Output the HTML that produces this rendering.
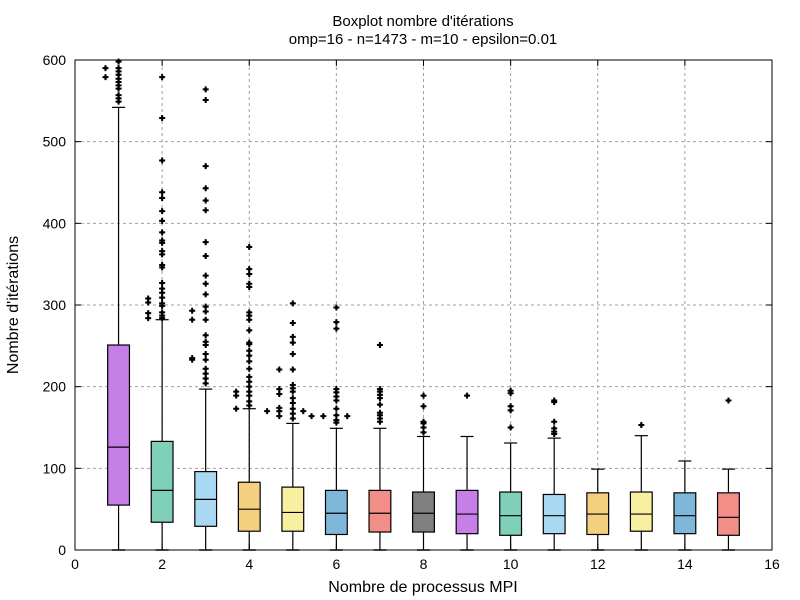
<!DOCTYPE html>
<html><head><meta charset="utf-8"><style>
body{margin:0;background:#fff}
svg{display:block;font-family:"Liberation Sans",sans-serif}
</style></head><body>
<svg id="chart" width="800" height="600">
<rect width="800" height="600" fill="#fff"/>
<text x="423" y="26" text-anchor="middle" font-size="15">Boxplot nombre d'itérations</text>
<text x="423" y="44" text-anchor="middle" font-size="15">omp=16 - n=1473 - m=10 - epsilon=0.01</text>
<text x="423" y="592" text-anchor="middle" font-size="16">Nombre de processus MPI</text>
<text transform="translate(18,305) rotate(-90)" text-anchor="middle" font-size="16">Nombre d'itérations</text>
<g id="grid"></g><g id="marks"></g><g id="axes"></g>
</svg>
<script>
const categories=[1,2,3,4,5,6,7,8,9,10,11,12,13,14,15];
const q1=[55,34,29,23,23,19,22,22,20,18,20,19,23,20,18];
const medians=[126,73,62,50,46,45,45,45,44,42,42,44,44,42,40];
const q3=[251,133,96,83,77,73,73,71,73,71,68,70,71,70,70];
const whiskerLow=[0,0,0,0,0,0,0,0,0,0,0,0,0,0,0];
const whiskerHigh=[542,282,197,173,155,149,149,139,139,131,137,99,140,109,99];
const colors=["#c77fe8","#7fcfb9","#a9d9f2","#f2d080","#f8f0a0","#7fb7d9","#f28e87","#808080","#c77fe8","#7fcfb9","#a9d9f2","#f2d080","#f8f0a0","#7fb7d9","#f28e87"];
// outliers: [x position, value]
const outliers=[
[1,598],[1,590],[1,586],[1,582],[1,577],[1,573],[1,569],[1,565],[1,557],[1,553],[1,549],[0.7,590],[0.7,579],
[2,579],[2,529],[2,477],[2,438],[2,431],[2,415],[2,403],[2,389],[2,379],[2,376],[2,366],[2,362],[2,349],[2,346],[2,327],[2,320],[2,315],[2,309],[2,302],[2,299],[2,291],[2,287],[2,284],[1.68,308],[1.68,303],[1.68,290],[1.68,284],
[3,564],[3,551],[3,470],[3,443],[3,428],[3,416],[3,377],[3,360],[3,336],[3,326],[3,313],[3,298],[3,292],[3,282],[3,263],[3,255],[3,251],[3,240],[3,233],[3,222],[3,216],[3,210],[3,204],[2.69,293],[2.69,282],[2.69,235],[2.69,233],
[4,371],[4,344],[4,338],[4,326],[4,322],[4,291],[4,287],[4,282],[4,269],[4,254],[4,252],[4,244],[4,238],[4,231],[4,222],[4,212],[4,206],[4,200],[4,194],[4,189],[4,182],[4,177],[3.7,194],[3.7,189],[3.7,173],
[5,302],[5,278],[5,261],[5,254],[5,240],[5,221],[5,202],[5,198],[5,194],[5,186],[5,180],[5,173],[5,167],[5,161],[4.69,221],[4.69,197],[4.69,191],[4.69,174],[4.69,170],[4.69,164],[4.41,170],[5.24,170],[5.43,164],[5.7,164],
[6,297],[6,279],[6,271],[6,197],[6,193],[6,188],[6,183],[6,173],[6,165],[6,159],[6,156],[6.25,164],
[7,251],[7,197],[7,194],[7,190],[7,186],[7,178],[7,168],[7,165],[7,161],[7,157],
[8,189],[8,176],[8,157],[8,155],[8,150],[8,144],
[9,189],
[10,195],[10,192],[10,176],[10,171],[10,150],
[11,183],[11,181],[11,157],[11,149],[11,145],[11,142],
[13,153],[15,183]];
const xTicks=[0,2,4,6,8,10,12,14,16];
const yTicks=[0,100,200,300,400,500,600];
const X0=75,X1=772,Y0=550,Y1=60;
const xs=v=>X0+(v-0)/(16-0)*(X1-X0);
const ys=v=>Y0-(v-0)/(600-0)*(Y0-Y1);
const NS="http://www.w3.org/2000/svg";
function mk(tag,attrs,parent){const e=document.createElementNS(NS,tag);for(const k in attrs)e.setAttribute(k,attrs[k]);parent.appendChild(e);return e;}
const grid=document.getElementById('grid'),marks=document.getElementById('marks'),axes=document.getElementById('axes');
xTicks.forEach(t=>{if(t>0&&t<16){const l=mk('line',{x1:xs(t),x2:xs(t),y1:Y0,y2:Y1,stroke:'#a0a0a0','stroke-dasharray':'3,3','stroke-width':1},grid);

}});
yTicks.forEach(t=>{if(t>0&&t<600){const l=mk('line',{x1:X0,x2:X1,y1:ys(t),y2:ys(t),stroke:'#a0a0a0','stroke-dasharray':'3,3','stroke-width':1},grid);

}});
const hw=0.25,cw=0.15;
categories.forEach((c,i)=>{
 const g=mk('g',{},marks);
 
 
 const cx=xs(c);
 mk('line',{x1:cx,x2:cx,y1:ys(whiskerLow[i]),y2:ys(q1[i]),stroke:'#000','stroke-width':1.2},g);
 mk('line',{x1:cx,x2:cx,y1:ys(q3[i]),y2:ys(whiskerHigh[i]),stroke:'#000','stroke-width':1.2},g);
 mk('line',{x1:xs(c-cw),x2:xs(c+cw),y1:ys(whiskerLow[i]),y2:ys(whiskerLow[i]),stroke:'#000','stroke-width':1.5},g);
 mk('line',{x1:xs(c-cw),x2:xs(c+cw),y1:ys(whiskerHigh[i]),y2:ys(whiskerHigh[i]),stroke:'#000','stroke-width':1.2},g);
 mk('rect',{x:xs(c-hw),y:ys(q3[i]),width:xs(c+hw)-xs(c-hw),height:ys(q1[i])-ys(q3[i]),fill:colors[i],stroke:'#000','stroke-width':1.2},g);
 mk('line',{x1:xs(c-hw),x2:xs(c+hw),y1:ys(medians[i]),y2:ys(medians[i]),stroke:'#000','stroke-width':1.2},g);
});
outliers.forEach(o=>{
 const x=xs(o[0]),y=ys(o[1]);
 const p=mk('path',{d:`M${x-2.5},${y}L${x},${y-2.5}L${x+2.5},${y}L${x},${y+2.5}Z M${x-1},${y-3}h2v6h-2Z M${x-3},${y-1}h6v2h-6Z`,fill:'#000'},marks);
 
 
});
const fr=mk('rect',{x:X0,y:Y1,width:X1-X0,height:Y0-Y1,fill:'none',stroke:'#000','stroke-width':1},axes);


xTicks.forEach(t=>{
 mk('line',{x1:xs(t),x2:xs(t),y1:Y0,y2:Y0-6,stroke:'#000'},axes);
 mk('line',{x1:xs(t),x2:xs(t),y1:Y1,y2:Y1+6,stroke:'#000'},axes);
 const tx=mk('text',{x:xs(t),y:Y0+19,'text-anchor':'middle','font-size':14},axes);
 tx.textContent=t;
 
 
});
yTicks.forEach(t=>{
 mk('line',{x1:X0,x2:X0+6,y1:ys(t),y2:ys(t),stroke:'#000'},axes);
 mk('line',{x1:X1,x2:X1-6,y1:ys(t),y2:ys(t),stroke:'#000'},axes);
 const tx=mk('text',{x:X0-9,y:ys(t)+5,'text-anchor':'end','font-size':14},axes);
 tx.textContent=t;
 
 
});
</script>
</body></html>
